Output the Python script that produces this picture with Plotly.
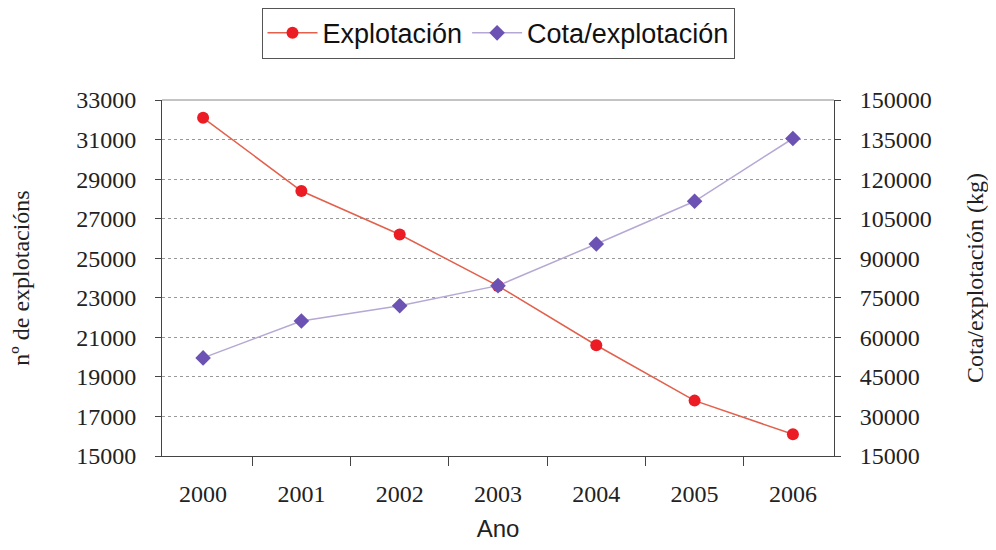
import plotly.graph_objects as go

years = ["2000", "2001", "2002", "2003", "2004", "2005", "2006"]
explotacion = [32100, 28400, 26200, 23600, 20600, 17800, 16100]
cota_explotacion = [52200, 66200, 72000, 79600, 95400, 111600, 135400]

left_ticks = [15000, 17000, 19000, 21000, 23000, 25000, 27000, 29000, 31000, 33000]
right_ticks = [15000, 30000, 45000, 60000, 75000, 90000, 105000, 120000, 135000, 150000]

serif = "Liberation Serif"
sans = "Liberation Sans"

fig = go.Figure()
fig.add_trace(go.Scatter(
    x=years, y=explotacion, name="Explotación", mode="lines+markers",
    line=dict(color="#e2604c", width=1.5),
    marker=dict(symbol="circle", size=12, color="#ec1c24"),
    yaxis="y"))
fig.add_trace(go.Scatter(
    x=years, y=cota_explotacion, name="Cota/explotación", mode="lines+markers",
    line=dict(color="#b6a8d4", width=1.5),
    marker=dict(symbol="diamond", size=12, color="#6b52b3"),
    yaxis="y2"))

fig.update_layout(
    width=980, height=534,
    margin=dict(l=154, r=154, t=92, b=86, autoexpand=False),
    paper_bgcolor="white", plot_bgcolor="white",
    showlegend=True,
    legend=dict(orientation="h", x=0.5, xanchor="center", y=1.259, yanchor="top",
                bordercolor="#555555", borderwidth=1,
                font=dict(family=sans, size=27, color="#111111"),
                itemwidth=50, tracegroupgap=0),
    xaxis=dict(
        type="category", tickson="boundaries", ticks="outside", ticklen=9,
        tickcolor="#444444", showline=True, linecolor="#444444", linewidth=1,
        mirror=False, showgrid=False, ticklabelstandoff=16,
        tickfont=dict(family=serif, size=24, color="#222222"),
        title=dict(text="Ano", font=dict(family=sans, size=24, color="#222222"), standoff=16)),
    yaxis=dict(
        range=[15000, 33000], tickvals=left_ticks, ticktext=[str(v) for v in left_ticks],
        ticks="outside", ticklen=6, tickcolor="#444444",
        showline=True, linecolor="#444444", linewidth=1,
        showgrid=True, gridcolor="#999999", griddash="dot", gridwidth=1,
        zeroline=False, ticklabelstandoff=14,
        tickfont=dict(family=serif, size=24, color="#222222"),
        title=dict(text="nº de explotacións", font=dict(family=serif, size=24, color="#222222"), standoff=42)),
    yaxis2=dict(
        range=[15000, 150000], tickvals=right_ticks, ticktext=[str(v) for v in right_ticks],
        overlaying="y", side="right",
        ticks="outside", ticklen=6, tickcolor="#444444",
        showline=True, linecolor="#444444", linewidth=1,
        showgrid=False, zeroline=False, ticklabelstandoff=14,
        tickfont=dict(family=serif, size=24, color="#222222"),
        title=dict(text="Cota/explotación (kg)", font=dict(family=serif, size=24, color="#222222"), standoff=37)),
    shapes=[dict(type="line", xref="paper", yref="paper", x0=0, x1=1, y0=1, y1=1,
                 line=dict(color="#888888", width=1))],
)

fig.write_html("out.html")
